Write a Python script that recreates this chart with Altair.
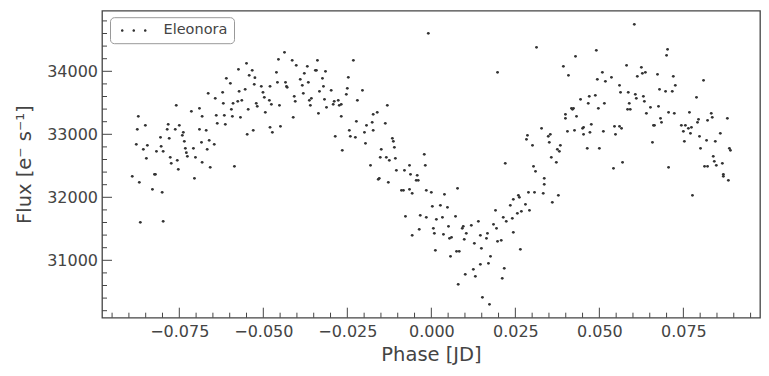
import altair as alt
import pandas as pd

# ---- data (phase [JD], flux [e-/s]) ----
phase_1 = [-0.0550, -0.0533, -0.0574, -0.0542, -0.0525, -0.0610, -0.0598, -0.0527, -0.0506, -0.0480,
           -0.0501, -0.0554, -0.0572, -0.0664, -0.0621, -0.0497, -0.0643, -0.0482, -0.0564, -0.0576,
           -0.0590, -0.0619, -0.0521, -0.0518, -0.0759, -0.0690, -0.0595, -0.0545, -0.0714, -0.0494,
           -0.0682, -0.0640, -0.0616, -0.0592, -0.0568, -0.0872, -0.0875, -0.0851, -0.0783, -0.0786,
           -0.0762, -0.0750, -0.0738, -0.0741, -0.0637, -0.0613, -0.0690, -0.0670, -0.0480, -0.0548,
           -0.0530, -0.0806, -0.0780, -0.0735, -0.0684, -0.0661, -0.0646, -0.0878, -0.0845, -0.0804,
           -0.0857, -0.0818, -0.0798, -0.0732, -0.0708, -0.0667, -0.0729, -0.0726, -0.0777, -0.0702,
           -0.0848, -0.0756, -0.0774, -0.0682, -0.0658, -0.0586, -0.0753, -0.0890, -0.0824, -0.0821,
           -0.0869, -0.0705, -0.0830, -0.0801, -0.0866, -0.0798]
flux_1 = [34126, 34015, 34031, 33936, 33899, 33888, 33809, 33793, 33761, 33761,
          33666, 33714, 33682, 33650, 33666, 33587, 33571, 33539, 33539, 33523,
          33492, 33492, 33492, 33444, 33460, 33412, 33396, 33396, 33365, 33349,
          33285, 33301, 33301, 33285, 33269, 33285, 33079, 33142, 33158, 33079,
          33079, 33142, 33031, 32984, 33174, 33158, 33079, 33063, 33111, 32999,
          33063, 32952, 32936, 32888, 32872, 32904, 32841, 32841, 32825, 32809,
          32761, 32730, 32730, 32777, 32777, 32761, 32708, 32650, 32634, 32634,
          32619, 32587, 32539, 32555, 32476, 32492, 32444, 32333, 32365, 32365,
          32238, 32301, 32126, 32079, 31603, 31619]

phase_2 = [-0.0437, -0.0455, -0.0414, -0.0339, -0.0232, -0.0402, -0.0369, -0.0345, -0.0342, -0.0315,
           -0.0461, -0.0378, -0.0324, -0.0390, -0.0247, -0.0458, -0.0434, -0.0366, -0.0431, -0.0429,
           -0.0321, -0.0384, -0.0250, -0.0333, -0.0298, -0.0205, -0.0381, -0.0253, -0.0408, -0.0357,
           -0.0318, -0.0363, -0.0405, -0.0277, -0.0289, -0.0220, -0.0476, -0.0452, -0.0360, -0.0292,
           -0.0274, -0.0268, -0.0312, -0.0131, -0.0161, -0.0173, -0.0336, -0.0411, -0.0268, -0.0223,
           -0.0137, -0.0176, -0.0193, -0.0473, -0.0449, -0.0244, -0.0199, -0.0173, -0.0286, -0.0241,
           -0.0226, -0.0116, -0.0113, -0.0196, -0.0110, -0.0265, -0.0149, -0.0021, -0.0152, -0.0134,
           -0.0125, -0.0107, -0.0181, -0.0065, -0.0018, -0.0104, -0.0080, -0.0062, -0.0042, -0.0155,
           -0.0158, -0.0045, -0.0039, -0.0128, -0.0089, -0.0083, -0.0065, -0.0057, -0.0015, -0.0077,
           -0.0033, -0.0015, -0.0036, -0.0057, -0.0009]
flux_2 = [34301, 34190, 34174, 34174, 34174, 34095, 34079, 34015, 34015, 33999,
          33984, 33968, 33888, 33872, 33904, 33825, 33825, 33825, 33761, 33745,
          33761, 33777, 33730, 33682, 33698, 33698, 33650, 33634, 33603, 33571,
          33555, 33539, 33523, 33539, 33523, 33539, 33476, 33460, 33460, 33476,
          33460, 33476, 33428, 33460, 33349, 33317, 33333, 33269, 33285, 33206,
          33174, 33190, 33142, 33031, 33126, 33063, 33031, 33063, 32968, 32968,
          32952, 32936, 32888, 32857, 32793, 32745, 32761, 32682, 32634, 32634,
          32587, 32619, 32507, 32507, 32507, 32428, 32428, 32365, 32349, 32301,
          32285, 32269, 32269, 32238, 32111, 32111, 32126, 32063, 32111, 31698,
          31714, 31682, 31492, 31396, 34603]

phase_3 = [0.0000, 0.0003, 0.0006, 0.0009, 0.0012, 0.0015, 0.0027, 0.0033, 0.0039, 0.0036,
           0.0048, 0.0051, 0.0054, 0.0057, 0.0060, 0.0072, 0.0078, 0.0075, 0.0083, 0.0080,
           0.0092, 0.0095, 0.0098, 0.0101, 0.0104, 0.0119, 0.0125, 0.0128, 0.0131, 0.0140,
           0.0146, 0.0146, 0.0149, 0.0152, 0.0164, 0.0167, 0.0170, 0.0173, 0.0176, 0.0185,
           0.0191, 0.0194, 0.0197, 0.0197, 0.0208, 0.0211, 0.0214, 0.0217, 0.0220, 0.0223,
           0.0235, 0.0241, 0.0244, 0.0244, 0.0256, 0.0259, 0.0262, 0.0265, 0.0268, 0.0280,
           0.0283, 0.0286, 0.0289, 0.0292, 0.0301, 0.0304, 0.0307, 0.0310, 0.0313, 0.0328,
           0.0333, 0.0336, 0.0336, 0.0348, 0.0351, 0.0354, 0.0357, 0.0360, 0.0372, 0.0375,
           0.0378, 0.0381, 0.0384, 0.0393, 0.0399, 0.0399, 0.0405, 0.0408, 0.0417, 0.0420,
           0.0423, 0.0426, 0.0429, 0.0432, 0.0444, 0.0450, 0.0453, 0.0453, 0.0464, 0.0467,
           0.0470, 0.0472]
flux_3 = [32079, 31857, 31507, 31428, 31158, 31650, 31872, 31682, 32047, 31412,
          31841, 31539, 31349, 31063, 31365, 31698, 32142, 31142, 31142, 30619,
          31507, 31539, 31333, 30777, 31428, 31555, 30856, 31269, 30745, 31619,
          31396, 30936, 31190, 30412, 31349, 31428, 30952, 30301, 31063, 31571,
          31793, 31507, 31301, 33984, 31317, 30714, 31682, 30872, 32539, 31619,
          31872, 31666, 31444, 31968, 31745, 32031, 31999, 31174, 31777, 31888,
          32920, 32984, 32079, 31793, 32825, 32492, 32079, 32412, 34380, 33095,
          32063, 32301, 32206, 32968, 32872, 32999, 32634, 31920, 32555, 32761,
          32031, 32730, 32825, 34079, 33317, 33253, 33047, 33936, 33412, 33396,
          33412, 33063, 34238, 33285, 33555, 33095, 33111, 32999, 32777, 33492,
          33603, 33031]

phase_4 = [0.0476, 0.0488, 0.0491, 0.0494, 0.0497, 0.0500, 0.0509, 0.0512, 0.0515, 0.0518,
           0.0536, 0.0542, 0.0545, 0.0548, 0.0560, 0.0560, 0.0563, 0.0566, 0.0569, 0.0581,
           0.0586, 0.0589, 0.0584, 0.0592, 0.0604, 0.0607, 0.0610, 0.0613, 0.0625, 0.0628,
           0.0631, 0.0634, 0.0637, 0.0640, 0.0652, 0.0658, 0.0661, 0.0664, 0.0673, 0.0676,
           0.0679, 0.0682, 0.0685, 0.0697, 0.0700, 0.0703, 0.0706, 0.0706, 0.0717, 0.0720,
           0.0723, 0.0726, 0.0744, 0.0750, 0.0753, 0.0756, 0.0765, 0.0768, 0.0771, 0.0774,
           0.0777, 0.0789, 0.0792, 0.0795, 0.0798, 0.0801, 0.0810, 0.0813, 0.0819, 0.0822,
           0.0822, 0.0833, 0.0836, 0.0839, 0.0842, 0.0845, 0.0848, 0.0860, 0.0866, 0.0869,
           0.0869, 0.0881, 0.0884, 0.0887, 0.0890]
flux_4 = [33158, 33619, 34333, 33872, 33412, 32777, 33984, 33047, 33492, 33841,
          33904, 32460, 33126, 32999, 33777, 33126, 33666, 33095, 32555, 34095,
          33666, 33492, 33396, 33396, 34745, 33634, 33571, 33920, 34063, 33968,
          33603, 33523, 33984, 33333, 33428, 32872, 33142, 33142, 33952, 33444,
          33714, 33253, 33190, 33682, 34253, 34349, 33349, 32476, 33682, 33920,
          33333, 33777, 33142, 33047, 32888, 33142, 33095, 33349, 33015, 33111,
          32031, 33587, 33190, 33237, 32968, 32777, 33857, 32492, 32904, 33222,
          32492, 33333, 33269, 32650, 32571, 32888, 32507, 33015, 32539, 32365,
          32333, 33253, 32269, 32777, 32745]

series_name = "Eleonora"

# tick positions (axis labels)
x_major = [-0.075, -0.05, -0.025, 0.0, 0.025, 0.05, 0.075]
x_minor = [-0.095, -0.09, -0.085, -0.08, -0.07, -0.065, -0.06, -0.055, -0.045, -0.04,
           -0.035, -0.03, -0.02, -0.015, -0.01, -0.005, 0.005, 0.01, 0.015, 0.02,
           0.03, 0.035, 0.04, 0.045, 0.055, 0.06, 0.065, 0.07, 0.08, 0.085, 0.09, 0.095]
y_major = [31000, 32000, 33000, 34000]
y_minor = [30200, 30400, 30600, 30800, 31200, 31400, 31600, 31800, 32200, 32400,
           32600, 32800, 33200, 33400, 33600, 33800, 34200, 34400, 34600, 34800]

X_DOMAIN = [-0.098, 0.0978]
Y_DOMAIN = [30089, 34962]

W, H = 658, 307
FONT = "DejaVu Sans"
INK = "#444444"

df = pd.DataFrame({
    "phase": phase_1 + phase_2 + phase_3 + phase_4,
    "flux": flux_1 + flux_2 + flux_3 + flux_4,
})
df["series"] = series_name

xs = alt.Scale(domain=X_DOMAIN, nice=False, zero=False)
ys = alt.Scale(domain=Y_DOMAIN, nice=False, zero=False)

x_axis = alt.Axis(values=x_major, format=".3f", title="Phase [JD]",
                  domain=False, ticks=False, grid=False,
                  labelFont=FONT, labelFontSize=16, labelColor=INK,
                  labelPadding=6, titleFont=FONT, titleFontSize=19.5,
                  titleFontWeight="normal", titleColor=INK, titlePadding=6)
y_axis = alt.Axis(values=y_major, format="d", title="Flux [e⁻ s⁻¹]",
                  domain=False, ticks=False, grid=False,
                  labelFont=FONT, labelFontSize=16, labelColor=INK,
                  labelPadding=4.5, titleFont=FONT, titleFontSize=19.5,
                  titleFontWeight="normal", titleColor=INK, titlePadding=12)


def dot(cx, r=0.26):
    return (f"M{cx - r:.2f},0A{r},{r} 0 1,0 {cx + r:.2f},0"
            f"A{r},{r} 0 1,0 {cx - r:.2f},0Z")


three_dots = dot(-0.2) + dot(2.1) + dot(4.4)

points = alt.Chart(df).mark_circle(size=8, opacity=1).encode(
    x=alt.X("phase:Q", scale=xs, axis=x_axis),
    y=alt.Y("flux:Q", scale=ys, axis=y_axis),
    color=alt.Color("series:N", scale=alt.Scale(range=["#333333"]),
                    legend=alt.Legend(title=None, orient="none", legendX=8, legendY=6.5,
                                      padding=6, strokeColor="#999999", cornerRadius=4,
                                      fillColor="white", symbolType=three_dots,
                                      symbolSize=100, symbolStrokeWidth=0,
                                      symbolFillColor="#333333", labelOffset=33,
                                      labelFont=FONT, labelFontSize=14.5, labelColor=INK)),
)


def xticks(vals, length):
    return alt.Chart(pd.DataFrame({"t": vals})).mark_rule(color=INK, strokeWidth=1).encode(
        x=alt.X("t:Q", scale=xs, axis=x_axis),
        y=alt.value(H), y2=alt.value(H - length))


def yticks(vals, length):
    return alt.Chart(pd.DataFrame({"t": vals})).mark_rule(color=INK, strokeWidth=1).encode(
        y=alt.Y("t:Q", scale=ys, axis=y_axis),
        x=alt.value(0), x2=alt.value(length))


chart = alt.layer(
    points,
    xticks(x_minor, 5), xticks(x_major, 10),
    yticks(y_minor, 5), yticks(y_major, 10),
).properties(
    width=W, height=H,
    background="white",
    autosize=alt.AutoSizeParams(type="none"),
    padding={"left": 102, "top": 10.7, "right": 9, "bottom": 58},
).configure_view(
    stroke=INK, strokeWidth=1.3,
)

chart.save("out.html", embed_options={"renderer": "svg", "actions": False})
